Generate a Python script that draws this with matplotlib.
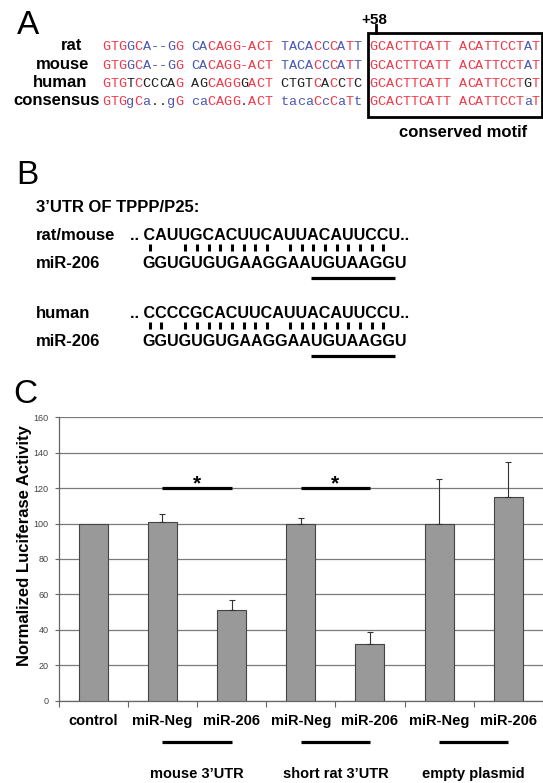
import matplotlib
matplotlib.use('Agg')
import matplotlib.pyplot as plt
from matplotlib import transforms
from matplotlib.patches import Rectangle
from matplotlib.font_manager import FontProperties
import numpy as np

plt.rcParams['font.family'] = ['Liberation Sans', 'DejaVu Sans']

W, H = 543, 783

# ---------------- Panel A data ----------------
seq_names = ['rat', 'mouse', 'human', 'consensus']
seq_rows = ["GTGGCA--GG CACAGG-ACT TACACCCATT GCACTTCATT ACATTCCTAT",
            "GTGGCA--GG CACAGG-ACT TACACCCATT GCACTTCATT ACATTCCTAT",
            "GTGTCCCCAG AGCAGGGACT CTGTCACCTC GCACTTCATT ACATTCCTGT",
            "GTGgCa..gG caCAGG.ACT tacaCcCaTt GCACTTCATT ACATTCCTaT"]
seq_colors = ["rrrbrbbbbr bbrrrrrrrr bbbbrbrbrb rrrrrrrrrr rrrrrrrrbr",
              "rrrbrbbbbr bbrrrrrrrr bbbbrbrbrb rrrrrrrrrr rrrrrrrrbr",
              "rrrkrkkkkr kkrrrrkrrr kkkkrkrkrk rrrrrrrrrr rrrrrrrrkr",
              "rrrbrbkkbr bbrrrrkrrr bbbbrbrbrb rrrrrrrrrr rrrrrrrrbr"]
motif_pos_label = '+58'
motif_label = 'conserved motif'

# ---------------- Panel B data ----------------
utr_title = '3\u2019UTR OF TPPP/P25:'
utr_labels = ['rat/mouse', 'human']
mir_label = 'miR-206'
utr_seqs = ['CAUUGCACUUCAUUACAUUCCU', 'CCCCGCACUUCAUUACAUUCCU']
mir_seq = 'GGUGUGUGAAGGAAUGUAAGGU'
pair_idx = [[0, 3, 4, 5, 6, 7, 8, 9, 10, 12, 13, 14, 15, 16, 17, 18, 19, 20],
            [0, 1, 3, 4, 5, 6, 7, 8, 9, 10, 12, 13, 14, 15, 16, 17, 18, 19, 20]]
seed_range = (14, 20)

# ---------------- Panel C data ----------------
categories = ['control', 'miR-Neg', 'miR-206', 'miR-Neg', 'miR-206', 'miR-Neg', 'miR-206']
values = [100, 101, 51, 100, 32, 100, 115]
errors = [0, 4.5, 5.5, 3, 6.5, 25, 19.5]
groups = [('mouse 3\u2019UTR', 1, 2), ('short rat 3\u2019UTR', 3, 4), ('empty plasmid', 5, 6)]
sig_pairs = [(1, 2, 120), (3, 4, 120)]
yticks = [0, 20, 40, 60, 80, 100, 120, 140, 160]
ylabel = 'Normalized Luciferase Activity'

fig = plt.figure(figsize=(W / 100, H / 100), dpi=100)
renderer = fig.canvas.get_renderer()

# ---- bar chart axes (panel C)
left_px, right_px = 58.5, W
y0_px, y160_px = 700.5, 417.3
catw = 69.6
ax = fig.add_axes([left_px / W, 1 - y0_px / H, 1 - left_px / W, (y0_px - y160_px) / H])
x = np.arange(len(categories))
ax.bar(x, values, width=0.42, color='#999999', edgecolor='#444444', linewidth=0.8, zorder=3)
xe = [i for i in x if errors[i] > 0]
ax.errorbar(xe, [values[i] for i in xe], yerr=[[0] * len(xe), [errors[i] for i in xe]],
            fmt='none', ecolor='#333333', elinewidth=0.8, capsize=2, capthick=0.8, zorder=4)
ax.set_xlim(-0.5, -0.5 + (right_px - left_px) / catw)
ax.set_ylim(0, 160)
ax.set_yticks(yticks)
ax.set_yticklabels([str(t) for t in yticks], fontsize=6.5, color='#444444')
ax.set_xticks(np.arange(-0.5, len(categories), 1))
ax.set_xticklabels([])
ax.tick_params(axis='y', length=3, width=0.8, color='#666666', pad=4)
ax.tick_params(axis='x', length=4, width=0.8, color='#666666')
ax.yaxis.grid(True, color='#7a7a7a', linewidth=0.9)
ax.set_axisbelow(True)
for s in ['top', 'right']:
    ax.spines[s].set_visible(False)
for s in ['left', 'bottom']:
    ax.spines[s].set_color('#666666')
    ax.spines[s].set_linewidth(0.9)
for i, j, yv in sig_pairs:
    ax.plot([i, j], [yv, yv], color='black', lw=2.3, solid_capstyle='butt', zorder=5)

# ---- overlay axes in pixel coordinates
axT = fig.add_axes([0, 0, 1, 1])
axT.set_xlim(0, W)
axT.set_ylim(H, 0)
axT.axis('off')
trans = transforms.blended_transform_factory(ax.transData, axT.transData)

# Panel letters
for lab, px, py in [('A', 17, 34.5), ('B', 16, 184), ('C', 13, 403)]:
    axT.text(px, py, lab, fontsize=24, ha='left', va='baseline')

# ---- Panel A
cmap = {'r': '#ee3b4a', 'b': '#4a58b4', 'k': '#222222'}
a_base = [50.5, 68.7, 86.9, 105.1]
a_right = [82, 89, 87, 100]
x_start, pitch_a = 102, 8.11
for r in range(len(seq_rows)):
    axT.text(a_right[r], a_base[r], seq_names[r], fontsize=12, fontweight='bold',
             ha='right', va='baseline')
    for j, (ch, c) in enumerate(zip(seq_rows[r], seq_colors[r])):
        if ch == ' ':
            continue
        axT.text(x_start + pitch_a * (j + 0.5), a_base[r], ch, color=cmap[c],
                 family='Liberation Mono', fontsize=9.7, ha='center', va='baseline')
axT.add_patch(Rectangle((368, 33), 542 - 368, 117 - 33, fill=False, lw=2, ec='black',
                        clip_on=False))
axT.plot([376, 376], [25, 33], color='black', lw=2)
axT.text(374, 24, motif_pos_label, fontsize=11, fontweight='bold', ha='center', va='baseline')
axT.text(463, 137, motif_label, fontsize=12, fontweight='bold', ha='center', va='baseline')

# ---- Panel B
fp_b = FontProperties(family='Liberation Sans', size=11.6, weight='bold')


def text_w(s):
    w, h, d = renderer.get_text_width_height_descent(s, fp_b, ismath=False)
    return w


def char_centers(s, x0):
    return [x0 + text_w(s[:i]) + text_w(s[i]) / 2 if i > 0 else x0 + text_w(s[0]) / 2
            for i in range(len(s))]


axT.text(36, 212, utr_title, fontsize=12, fontweight='bold', ha='left', va='baseline')
seq_x0 = 144
for k in range(2):
    off = 78 * k
    axT.text(36, 240 + off, utr_labels[k], fontsize=12, fontweight='bold', va='baseline')
    axT.text(36, 268 + off, mir_label, fontsize=12, fontweight='bold', va='baseline')
    utr_line = '.. ' + utr_seqs[k] + '..'
    pre_w = text_w('.. ')
    axT.text(seq_x0 - pre_w, 240 + off, utr_line, fontproperties=fp_b, va='baseline')
    cu = char_centers(utr_seqs[k], seq_x0)
    for i in pair_idx[k]:
        axT.plot([cu[i]] * 2, [243.5 + off, 250.5 + off], color='black', lw=2.2,
                 solid_capstyle='butt')
    mir_x0 = seq_x0 - 2
    axT.text(mir_x0, 268 + off, mir_seq, fontproperties=fp_b, va='baseline')
    xa = mir_x0 + text_w(mir_seq[:seed_range[0]])
    xb = mir_x0 + text_w(mir_seq[:seed_range[1] + 1])
    axT.plot([xa, xb], [278 + off, 278 + off], color='black', lw=2.3, solid_capstyle='butt')

# ---- Panel C texts
axT.text(25, 546, ylabel, rotation=90, fontsize=12, fontweight='bold',
         ha='center', va='center')
for i, lab in enumerate(categories):
    axT.text(i, 725, lab, transform=trans, fontsize=10.5, fontweight='bold',
             ha='center', va='baseline')
for lab, i, j in groups:
    axT.plot([i, j], [742, 742], transform=trans, color='black', lw=2.3,
             solid_capstyle='butt')
    axT.text((i + j) / 2, 778, lab, transform=trans, fontsize=10.5, fontweight='bold',
             ha='center', va='baseline')
for i, j, yv in sig_pairs:
    axT.text((i + j) / 2, 489, '*', transform=trans, fontsize=15, fontweight='bold',
             ha='center', va='baseline')

fig.savefig('out.png', dpi=100)
